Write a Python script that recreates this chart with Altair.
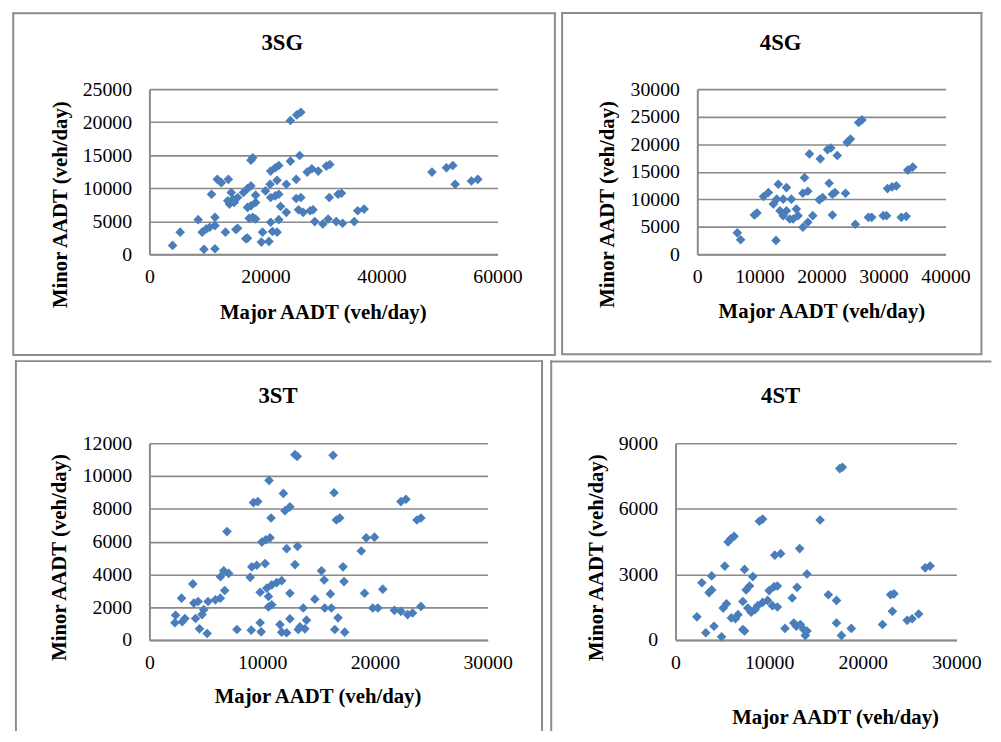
import altair as alt
import pandas as pd

# ---------------- data ----------------
sg3_major = [4000, 5300, 8400, 9100, 9400, 11300, 9800, 10400, 11300, 11300,
             10700, 11700, 12400, 13600, 13100, 14900, 15200, 14100, 13500, 14400,
             13800, 14600, 15200, 16200, 16900, 16600, 17200, 17800, 18300, 17500,
             17800, 16900, 17500, 18300, 18300, 17500, 16900, 19300, 19500, 20600,
             20900, 21200, 22000, 22300, 22600, 20900, 21700, 22300, 20000, 20800,
             22000, 23600, 23600, 20900, 21700, 22300, 24300, 25900, 24300, 25400,
             26100, 25300, 26100, 25300, 25700, 26500, 27700, 28200, 27200, 28000,
             29100, 30500, 31100, 28500, 29900, 30800, 32200, 33300, 31000, 32500,
             33100, 35300, 35900, 37000, 48700, 51200, 52300, 52700, 55500, 56600]
sg3_minor = [1350, 3350, 5250, 3350, 750, 850, 3850, 4100, 4350, 5600,
             9100, 11350, 10850, 11350, 3350, 3750, 3950, 9350, 8100, 8350,
             7600, 7850, 8600, 9350, 2450, 2350, 5450, 5600, 5350, 14250,
             14600, 7100, 7350, 7850, 8950, 10350, 9950, 1850, 3350, 1950,
             4850, 3450, 3350, 5250, 7250, 8600, 8850, 9100, 9600, 10600,
             11200, 10600, 6350, 12600, 13100, 13450, 14100, 14950, 20250, 21100,
             21500, 8450, 8600, 11350, 6750, 6350, 6600, 6750, 12450, 12950,
             12600, 13350, 13600, 4950, 4600, 5350, 4950, 4700, 8600, 9100,
             9250, 4950, 6600, 6850, 12450, 13100, 13450, 10600, 11100, 11350]

sg4_major = [6450, 6980, 9620, 9200, 10670, 11460, 13050, 12680, 12260, 12790,
             13840, 14370, 15160, 13320, 13840, 14370, 14900, 15960, 16230, 15430,
             17010, 17810, 18600, 17280, 17010, 17810, 18070, 19660, 20190, 19820,
             20980, 21510, 22560, 21240, 21770, 22190, 21770, 23880, 24150, 24680,
             26000, 26530, 25470, 27580, 28110, 29960, 30490, 30650, 31390, 32070,
             32870, 33660, 33920, 34720]
sg4_minor = [3900, 2640, 7500, 7140, 10500, 11220, 12720, 2520, 9120, 10020,
             10020, 12120, 10020, 7920, 7020, 7920, 6420, 8220, 7020, 6420,
             4920, 5820, 7020, 13920, 11100, 11460, 18240, 9900, 10320, 17340,
             19020, 19320, 17940, 12900, 10920, 11220, 7140, 11100, 20340, 20940,
             23940, 24420, 5460, 6720, 6720, 7020, 7020, 11940, 12240, 12420,
             6720, 6900, 15300, 15840]

st3_major = [13110, 12910, 16290, 10610, 11880, 9230, 9610, 12020, 12460, 16380,
             16880, 16580, 22310, 22750, 23730, 24080, 6880, 10790, 9970, 10320,
             10700, 12170, 13140, 12910, 9080, 9520, 10260, 8940, 6590, 7030,
             6300, 6680, 6290, 5850, 5200, 3850, 2850, 3940, 4320, 4820,
             4670, 4090, 2320, 2260, 3150, 2910, 4440, 5120, 7760, 9030,
             9820, 9910, 9820, 10410, 10850, 11290, 11730, 10560, 10560, 10850,
             12460, 13640, 12460, 11580, 11730, 12170, 13350, 13930, 13790, 13200,
             14670, 15260, 15500, 16050, 15550, 16140, 16730, 16440, 17320, 17170,
             17260, 18790, 19230, 19960, 19080, 19810, 20700, 20260, 21730, 22310,
             22900, 23340, 24080]
st3_minor = [11200, 11300, 11260, 9730, 8940, 8380, 8440, 7880, 8120, 8980,
             7440, 7320, 8440, 8580, 7320, 7440, 6610, 7440, 5970, 6110,
             6230, 5570, 5710, 4600, 4460, 4560, 4660, 3820, 4220, 4060,
             3860, 3020, 2550, 2450, 2350, 3420, 2550, 2250, 2350, 1850,
             1550, 1310, 1510, 1050, 1310, 1110, 680, 400, 640, 600,
             1050, 500, 2910, 3160, 3360, 3500, 3620, 2650, 2010, 2150,
             2850, 1950, 1290, 940, 480, 440, 800, 1210, 680, 640,
             2490, 4220, 3660, 2810, 1950, 1950, 1350, 640, 480, 4460,
             3560, 5430, 6230, 6270, 2850, 1950, 3100, 1950, 1810, 1750,
             1550, 1650, 2050]

st4_major = [2280, 2810, 3230, 3860, 3580, 3860, 4110, 4910, 5260, 5090,
             5440, 5610, 5900, 6250, 5960, 6390, 6670, 7190, 7370, 7190,
             7370, 7540, 7900, 8250, 7720, 8070, 8490, 8950, 9300, 8770,
             9300, 9830, 10000, 10530, 10880, 10350, 10880, 10600, 11230, 11690,
             12460, 12910, 12980, 12630, 13330, 13690, 13860, 14040, 13260, 14040,
             15440, 16320, 17190, 17190, 17540, 17820, 17720, 18770, 22110, 23160,
             22980, 23330, 24740, 25270, 25970, 26670, 27190]
st4_minor = [1060, 2620, 330, 2930, 2170, 2290, 630, 150, 3380, 1460,
             1660, 4480, 4630, 4740, 1010, 970, 1160, 480, 410, 1760,
             3230, 2290, 2470, 2900, 1460, 1270, 1390, 5430, 5530, 1570,
             1720, 1810, 2260, 2440, 2470, 1570, 1510, 3880, 3950, 530,
             1920, 630, 2410, 780, 710, 480, 210, 410, 4180, 3020,
             5490, 2070, 1810, 780, 7840, 7900, 210, 530, 710, 1310,
             2070, 2110, 900, 970, 1190, 3300, 3380]

titles = ["3SG", "4SG", "3ST", "4ST"]
x_title = "Major AADT (veh/day)"
y_title = "Minor AADT (veh/day)"

FONT = "Liberation Serif, Times New Roman, serif"
BLUE = "#4a7ebb"
GRID = "#8a8a8a"
BOX = "#8c8c8c"


def panel(major, minor, title, xmax, xstep, ymax, ystep, W, H,
          box, edges, title_pos, ytitle_pos, xtitle_pos, ext_left=None, ext_top=None):
    """box = (x1, x2, y1, y2) of the panel frame relative to the plot area;
    edges = which frame sides are drawn ('l', 't', 'r', 'b')."""
    df = pd.DataFrame({"major": major, "minor": minor})
    one = pd.DataFrame({"t": [title]})
    xvals = list(range(0, xmax + 1, xstep))
    yvals = list(range(0, ymax + 1, ystep))
    x1, x2, y1, y2 = box

    layers = []
    # invisible frame area (defines the panel extent for the layout)
    layers.append(alt.Chart(one).mark_rect(fill="white", fillOpacity=0).encode(
        x=alt.value(x1), x2=alt.value(x2), y=alt.value(y1), y2=alt.value(y2)))
    # off-page anchors (outside the visible page) that fix the layout origin
    if ext_left is not None:
        layers.append(alt.Chart(one).mark_rect(fill="white").encode(
            x=alt.value(ext_left), x2=alt.value(ext_left + 3),
            y=alt.value(0), y2=alt.value(2)))
    if ext_top is not None:
        layers.append(alt.Chart(one).mark_rect(fill="white").encode(
            x=alt.value(0), x2=alt.value(2),
            y=alt.value(ext_top), y2=alt.value(ext_top + 3)))
    rule_kw = dict(color=BOX, strokeWidth=2)
    if "l" in edges:
        layers.append(alt.Chart(one).mark_rule(**rule_kw).encode(
            x=alt.value(x1), y=alt.value(y1 - 1), y2=alt.value(y2)))
    if "r" in edges:
        layers.append(alt.Chart(one).mark_rule(**rule_kw).encode(
            x=alt.value(x2), y=alt.value(y1 - 1), y2=alt.value(y2)))
    if "t" in edges:
        layers.append(alt.Chart(one).mark_rule(**rule_kw).encode(
            y=alt.value(y1), x=alt.value(x1 - 1), x2=alt.value(x2 + 1)))
    if "b" in edges:
        layers.append(alt.Chart(one).mark_rule(**rule_kw).encode(
            y=alt.value(y2), x=alt.value(x1 - 1), x2=alt.value(x2 + 1)))

    layers.append(alt.Chart(one).mark_text(
        font=FONT, fontSize=23, fontWeight="bold", color="black",
        align="center", baseline="middle"
    ).encode(text="t:N", x=alt.value(title_pos[0]), y=alt.value(title_pos[1])))

    layers.append(alt.Chart(df).mark_point(
        shape="diamond", filled=True, size=95, color=BLUE, opacity=1
    ).encode(
        x=alt.X("major:Q",
                scale=alt.Scale(domain=[0, xmax], nice=False),
                axis=alt.Axis(values=xvals, format="d", grid=False, ticks=False,
                              tickSize=0, domainColor=GRID, domainWidth=2,
                              labelFont=FONT, labelFontSize=20, labelColor="black",
                              labelPadding=13, labelFlush=False,
                              title=x_title, titleFont=FONT, titleFontSize=21,
                              titleFontWeight="bold", titleColor="black",
                              titleX=xtitle_pos[0], titleY=xtitle_pos[1],
                              titleBaseline="middle", titleAlign="center")),
        y=alt.Y("minor:Q",
                scale=alt.Scale(domain=[0, ymax], nice=False),
                axis=alt.Axis(values=yvals, format="d", grid=True, gridColor=GRID,
                              gridWidth=1.6, ticks=False, tickSize=0,
                              domainColor=GRID, domainWidth=2,
                              labelFont=FONT, labelFontSize=20, labelColor="black",
                              labelPadding=18, labelFlush=False,
                              title=y_title, titleFont=FONT, titleFontSize=21,
                              titleFontWeight="bold", titleColor="black",
                              titleX=ytitle_pos[0], titleY=ytitle_pos[1],
                              titleBaseline="middle", titleAlign="center")),
    ))
    return alt.layer(*layers).properties(width=W, height=H)


# plot areas (page px): 3SG 150.7-503 x 85.7-252.7, 4SG 702.7-954 x 86-252.7,
# 3ST 144-486 x 442-641, 4ST 673.7-957.7 x 441.7-640.7
# anchors sit at page x = -20 / page y = -20 (hidden by the negative padding)
p1 = panel(sg3_major, sg3_minor, titles[0], 60000, 20000, 25000, 5000, 352, 167,
           (-137.7, 410, -76.7, 268.7), "ltrb",
           (134.3, -46.7), (-89.7, 116.3), (175.3, 58.7),
           ext_left=-170.7, ext_top=-105.7)
p2 = panel(sg4_major, sg4_minor, titles[1], 40000, 10000, 30000, 5000, 251, 167,
           (-136.7, 287.3, -77, 268), "ltrb",
           (84.3, -47), (-90.7, 116), (125.5, 58.3),
           ext_top=-106)
p3 = panel(st3_major, st3_minor, titles[2], 30000, 10000, 12000, 2000, 342, 199,
           (-135, 397, -83, 291), "ltr",
           (130, -48), (-91, 115), (170, 57),
           ext_left=-164)
p4 = panel(st4_major, st4_minor, titles[3], 30000, 10000, 9000, 3000, 284, 199,
           (-125.7, 318.3, -82.7, 291), "lt",
           (106.3, -47.7), (-79.7, 115.3), (161.3, 78.3))

chart = alt.vconcat(
    alt.hconcat(p1, p2, spacing=3),
    alt.hconcat(p3, p4, spacing=5),
    spacing=3,
).properties(
    padding={"left": -28, "top": -28, "right": 0, "bottom": 0},
    background="white",
).configure_view(strokeWidth=0)

chart.save("out.html", embed_options={"renderer": "svg", "actions": False})
